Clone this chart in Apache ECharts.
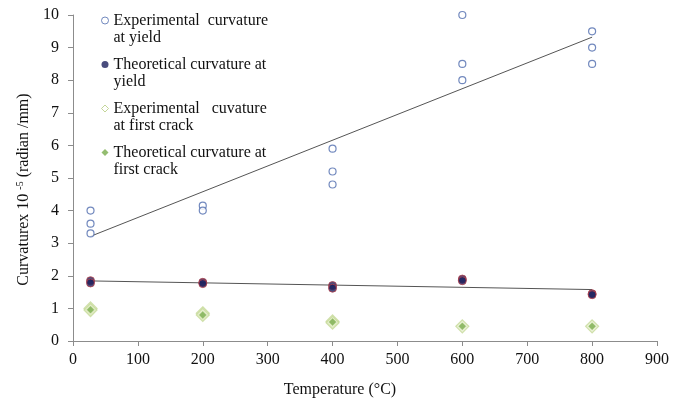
<!DOCTYPE html>
<html>
<head>
<meta charset="utf-8">
<script src="https://cdn.jsdelivr.net/npm/echarts@6/dist/echarts.min.js"></script>
<style>
  html, body { margin: 0; padding: 0; background: #ffffff; }
  #chart { width: 681px; height: 403px; }
</style>
</head>
<body>
<div id="chart"></div>
<script>
// Test temperatures (°C)
const temperatures = [27, 200, 400, 600, 800];

// Curvature x 10^-5 (radian/mm), several specimens per temperature
const expYield = [[4.0, 3.6, 3.3], [4.15, 4.0], [5.9, 5.2, 4.8], [10.0, 8.5, 8.0], [9.5, 9.0, 8.5]];
const theoYield = [[1.85, 1.78], [1.8, 1.76], [1.7, 1.62], [1.9, 1.85], [1.45, 1.42]];
const expCrack = [[1.0, 0.95], [0.85, 0.8], [0.6, 0.56], [0.45], [0.45]];
const theoCrack = [[0.96], [0.8], [0.58], [0.45], [0.45]];

const xTicks = [0, 100, 200, 300, 400, 500, 600, 700, 800, 900];
const yTicks = [0, 1, 2, 3, 4, 5, 6, 7, 8, 9, 10];

const seriesNames = [
  'Experimental  curvature\nat yield',
  'Theoretical curvature at\nyield',
  'Experimental   cuvature\nat first crack',
  'Theoretical curvature at\nfirst crack'
];

function toPoints(groups) {
  const pts = [];
  groups.forEach((vals, i) => vals.forEach(v => pts.push([temperatures[i], v])));
  return pts;
}

// Least-squares linear trend across the plotted points
function trend(points) {
  const n = points.length;
  const mx = points.reduce((s, p) => s + p[0], 0) / n;
  const my = points.reduce((s, p) => s + p[1], 0) / n;
  let sxy = 0, sxx = 0;
  points.forEach(p => { sxy += (p[0] - mx) * (p[1] - my); sxx += (p[0] - mx) * (p[0] - mx); });
  const k = sxy / sxx, b = my - k * mx;
  const x0 = temperatures[0], x1 = temperatures[temperatures.length - 1];
  return [[x0, k * x0 + b], [x1, k * x1 + b]];
}

const expYieldPts = toPoints(expYield);
const theoYieldPts = toPoints(theoYield);

const serif = '"Liberation Serif", "Times New Roman", serif';
const axisGray = '#8c8c8c';

const chart = echarts.init(document.getElementById('chart'));
chart.setOption({
  animation: false,
  backgroundColor: '#ffffff',
  textStyle: { fontFamily: serif },
  grid: { left: 73, right: 24, top: 15, bottom: 61 },
  legend: {
    orient: 'vertical',
    left: 101,
    top: -5,
    padding: 0,
    itemWidth: 7,
    itemHeight: 7,
    itemGap: -7,
    data: [
      { name: seriesNames[0], itemStyle: { color: '#ffffff', borderColor: '#4f6cae', borderWidth: 1 } },
      { name: seriesNames[1], itemStyle: { color: '#1b1f5c', borderColor: '#1b1f5c', borderWidth: 0 } },
      { name: seriesNames[2], itemStyle: { color: '#ffffff', borderColor: '#b5cc7e', borderWidth: 1 } },
      { name: seriesNames[3], itemStyle: { color: '#79ad4c', borderColor: '#79ad4c', borderWidth: 0 } }
    ],
    selectedMode: false,
    // a leading empty line keeps each marker level with the first text line
    formatter: name => '\n' + name,
    textStyle: {
      fontFamily: serif,
      fontSize: 16,
      color: '#111',
      lineHeight: 17
    }
  },
  xAxis: {
    type: 'value',
    min: xTicks[0],
    max: xTicks[xTicks.length - 1],
    interval: 100,
    name: 'Temperature (°C)',
    nameLocation: 'middle',
    nameGap: 41,
    nameTextStyle: { fontFamily: serif, fontSize: 16, color: '#111', padding: [0, 50, 0, 0] },
    axisLine: { lineStyle: { color: axisGray } },
    axisTick: { show: true, length: 5, lineStyle: { color: axisGray } },
    axisLabel: { fontFamily: serif, fontSize: 16, color: '#111', margin: 11 },
    splitLine: { show: false }
  },
  yAxis: {
    type: 'value',
    min: yTicks[0],
    max: yTicks[yTicks.length - 1],
    interval: 1,
    name: 'Curvaturex 10 {sup|-5} (radian /mm)',
    nameLocation: 'middle',
    nameGap: 38,
    nameRotate: 90,
    nameTextStyle: {
      fontFamily: serif, fontSize: 16, color: '#111', padding: [0, 23, 0, 0],
      rich: { sup: { fontFamily: serif, fontSize: 10, color: '#111', verticalAlign: 'bottom', padding: [0, 0, 7, 0] } }
    },
    axisLine: { show: true, lineStyle: { color: axisGray } },
    axisTick: { show: true, length: 5, lineStyle: { color: axisGray } },
    axisLabel: { fontFamily: serif, fontSize: 16, color: '#111', margin: 14 },
    splitLine: { show: false }
  },
  series: [
    {
      name: 'trend-yield-exp',
      type: 'line',
      data: trend(expYieldPts),
      symbol: 'none',
      silent: true,
      lineStyle: { color: '#555', width: 1 },
      z: 1
    },
    {
      name: 'trend-yield-theo',
      type: 'line',
      data: trend(theoYieldPts),
      symbol: 'none',
      silent: true,
      lineStyle: { color: '#555', width: 1 },
      z: 1
    },
    {
      name: seriesNames[0],
      type: 'scatter',
      data: expYieldPts,
      symbol: 'circle',
      symbolSize: 7,
      itemStyle: { color: '#ffffff', borderColor: '#4f6cae', borderWidth: 1.2 },
      z: 3
    },
    {
      name: seriesNames[1],
      type: 'scatter',
      data: theoYieldPts,
      symbol: 'circle',
      symbolSize: 8,
      itemStyle: { color: '#1b1f5c', borderColor: '#b8404a', borderWidth: 1 },
      z: 3
    },
    {
      name: seriesNames[2],
      type: 'scatter',
      data: toPoints(expCrack),
      symbol: 'diamond',
      symbolSize: 13,
      itemStyle: { color: '#e3edc9', borderColor: '#c6d998', borderWidth: 1.2 },
      z: 3
    },
    {
      name: seriesNames[3],
      type: 'scatter',
      data: toPoints(theoCrack),
      symbol: 'diamond',
      symbolSize: 7,
      itemStyle: { color: '#79ad4c', borderColor: '#8fbf62', borderWidth: 0.5 },
      z: 4
    }
  ]
});
</script>
</body>
</html>
